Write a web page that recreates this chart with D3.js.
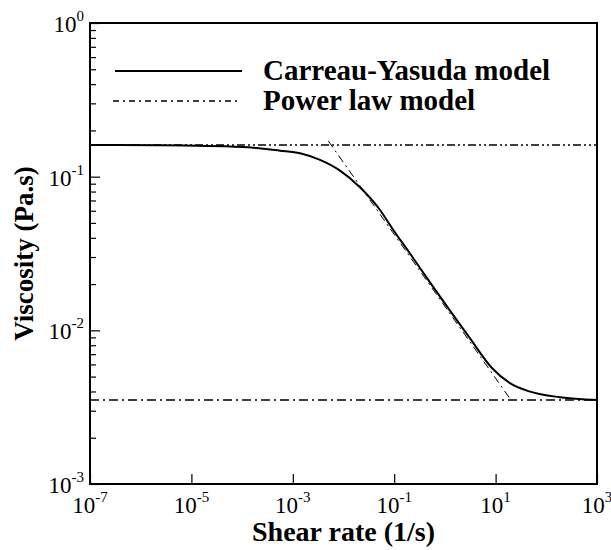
<!DOCTYPE html>
<html>
<head>
<meta charset="utf-8">
<script src="https://cdn.jsdelivr.net/npm/d3@7"></script>
<style>
  html, body { margin: 0; padding: 0; background: #fff; }
  svg { display: block; }
  text { font-family: "Liberation Serif", "Times New Roman", serif; fill: #000; }
</style>
</head>
<body>
<svg id="chart" width="611" height="550"></svg>
<script>
// ---- data ----
const shearRate = [1e-7, 2.4e-6, 1.0e-4, 5.6e-4, 1.39e-3, 3.44e-3, 8.53e-3, 0.0211, 0.0525, 0.0959, 0.205, 0.508, 1.26, 3.13, 8.38, 19.2, 47.8, 186, 1000];
const viscosityCY = [0.1607, 0.160, 0.156, 0.1476, 0.142, 0.1285, 0.1094, 0.0853, 0.0607, 0.0450, 0.0316, 0.0205, 0.01343, 0.00887, 0.00571, 0.00453, 0.00399, 0.00367, 0.00352];
const powerLawRate = [0.0050, 20.7];
const powerLawVisc = [0.171, 0.00347];
const eta0 = 0.1607;
const etaInf = 0.00352;
const xDomain = [1e-7, 1e3];
const yDomain = [1e-3, 1e0];
const xTickExps = [-7, -5, -3, -1, 1, 3];
const yTickExps = [-3, -2, -1, 0];
const legendLabels = ["Carreau-Yasuda model", "Power law model"];
const xTitle = "Shear rate (1/s)";
const yTitle = "Viscosity (Pa.s)";

// ---- layout ----
const L = 90, R = 597, T = 23, B = 484;
const svg = d3.select("#chart");
const x = d3.scaleLog().domain(xDomain).range([L, R]);
const y = d3.scaleLog().domain(yDomain).range([B, T]);

// minor y ticks
const yMinor = [];
for (let e = -3; e < 0; e++) for (let m = 2; m <= 9; m++) yMinor.push(m * Math.pow(10, e));

const axisStyle = g => { g.select(".domain").remove(); g.selectAll("line").attr("stroke", "#000").attr("stroke-width", 1.2); };

svg.append("g").attr("transform", `translate(${L},0)`)
  .call(d3.axisLeft(y).tickValues(yMinor).tickSize(-6).tickFormat(""))
  .call(axisStyle);
svg.append("g").attr("transform", `translate(${L},0)`)
  .call(d3.axisLeft(y).tickValues(yTickExps.map(e => Math.pow(10, e))).tickSize(-10).tickFormat(""))
  .call(axisStyle);
svg.append("g").attr("transform", `translate(0,${B})`)
  .call(d3.axisBottom(x).tickValues(xTickExps.map(e => Math.pow(10, e))).tickSize(-10).tickFormat(""))
  .call(axisStyle);

// frame
svg.append("rect").attr("x", L).attr("y", T).attr("width", R - L).attr("height", B - T)
  .attr("fill", "none").attr("stroke", "#000").attr("stroke-width", 2);

// tick labels
xTickExps.forEach(e => {
  const t = svg.append("text").attr("x", x(Math.pow(10, e))).attr("y", B + 29)
    .attr("text-anchor", "middle").style("font-size", "23px");
  t.append("tspan").text("10");
  t.append("tspan").attr("dy", -11).style("font-size", "15px").text(String(e));
});
yTickExps.forEach(e => {
  const t = svg.append("text").attr("x", L - 6).attr("y", y(Math.pow(10, e)) + 9)
    .attr("text-anchor", "end").style("font-size", "23px");
  t.append("tspan").text("10");
  t.append("tspan").attr("dy", -11).style("font-size", "15px").text(String(e));
});

// axis titles
svg.append("text").attr("x", (L + R) / 2).attr("y", 541).attr("text-anchor", "middle")
  .style("font-size", "28px").style("font-weight", "bold").text(xTitle);
svg.append("text").attr("transform", `translate(33,${(T + B) / 2}) rotate(-90)`).attr("text-anchor", "middle")
  .style("font-size", "27px").style("font-weight", "bold").text(yTitle);

// clip
svg.append("clipPath").attr("id", "clip").append("rect").attr("x", L).attr("y", T).attr("width", R - L).attr("height", B - T);
const plot = svg.append("g").attr("clip-path", "url(#clip)");

// horizontal asymptotes
plot.append("line").attr("x1", x(xDomain[0])).attr("x2", x(xDomain[1])).attr("y1", y(eta0)).attr("y2", y(eta0))
  .attr("stroke", "#000").attr("stroke-width", 1.6).attr("stroke-dasharray", "8,3,2,3,2,3");
plot.append("line").attr("x1", x(xDomain[0])).attr("x2", x(xDomain[1])).attr("y1", y(etaInf)).attr("y2", y(etaInf))
  .attr("stroke", "#000").attr("stroke-width", 1.6).attr("stroke-dasharray", "9,4,2,4");

// power law line
const plData = powerLawRate.map((g, i) => [g, powerLawVisc[i]]);
plot.append("path").datum(plData)
  .attr("d", d3.line().x(d => x(d[0])).y(d => y(d[1])))
  .attr("fill", "none").attr("stroke", "#000").attr("stroke-width", 1).attr("stroke-dasharray", "8,4,2,4");

// Carreau-Yasuda curve
const cyData = shearRate.map((g, i) => [g, viscosityCY[i]]);
plot.append("path").datum(cyData)
  .attr("d", d3.line().x(d => x(d[0])).y(d => y(d[1])).curve(d3.curveMonotoneX))
  .attr("fill", "none").attr("stroke", "#000").attr("stroke-width", 2);

// legend
svg.append("line").attr("x1", 115).attr("x2", 242).attr("y1", 71).attr("y2", 71)
  .attr("stroke", "#000").attr("stroke-width", 2);
svg.append("line").attr("x1", 113).attr("x2", 239).attr("y1", 101).attr("y2", 101)
  .attr("stroke", "#000").attr("stroke-width", 1.5).attr("stroke-dasharray", "6,4,2,4");
svg.append("text").attr("x", 263).attr("y", 80).style("font-size", "29px").style("font-weight", "bold").text(legendLabels[0]);
svg.append("text").attr("x", 263).attr("y", 110).style("font-size", "29px").style("font-weight", "bold").text(legendLabels[1]);
</script>
</body>
</html>
